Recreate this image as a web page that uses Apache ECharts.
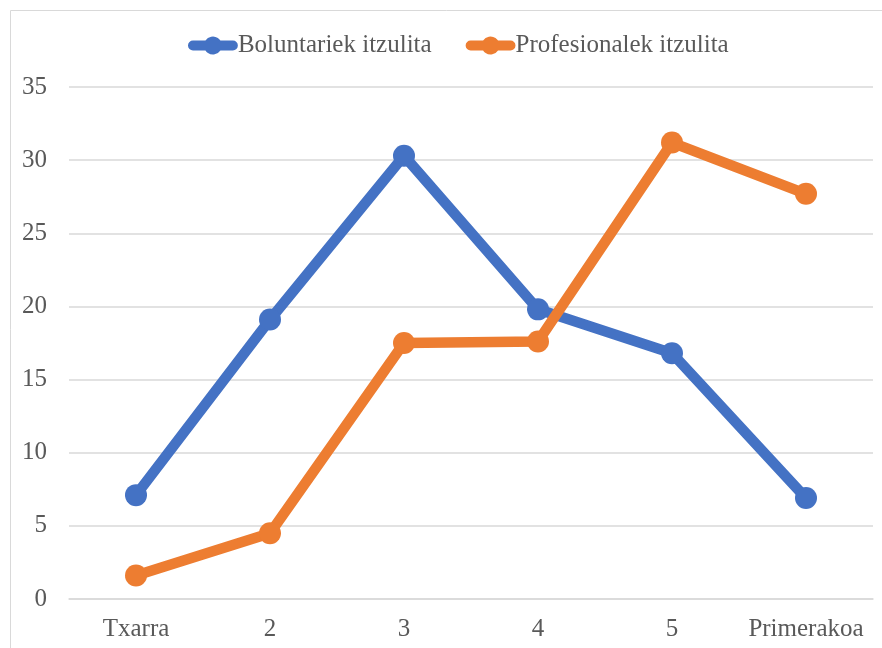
<!DOCTYPE html>
<html><head><meta charset="utf-8">
<script src="https://cdn.jsdelivr.net/npm/echarts@6/dist/echarts.min.js"></script>
<style>html,body{margin:0;padding:0;background:#fff}#c{width:882px;height:648px}</style>
</head><body><div id="c"></div>
<script>
const categories = ['Txarra', '2', '3', '4', '5', 'Primerakoa'];
const boluntariak = [7.1, 19.1, 30.3, 19.8, 16.8, 6.9];
const profesionalak = [1.6, 4.5, 17.5, 17.6, 31.2, 27.7];
const seriesNames = ['Boluntariek itzulita', 'Profesionalek itzulita'];
const chart = echarts.init(document.getElementById('c'));
const font = '"Liberation Serif","Times New Roman",serif';
chart.setOption({
  animation: false,
  textStyle: {fontFamily: font},
  graphic: [{type: 'rect', shape: {x: 10.5, y: 10.5, width: 900, height: 700}, style: {fill: 'none', stroke: '#d9d9d9', lineWidth: 1}}],
  legend: {
    top: 28, left: 183, itemWidth: 50, itemHeight: 18, itemGap: 34,
    icon: 'path://M5,4 L17.5,4 A9,9 0 0 1 32.5,4 L45,4 A5,5 0 0 1 45,14 L32.5,14 A9,9 0 0 1 17.5,14 L5,14 A5,5 0 0 1 5,4 Z',
    textStyle: {fontFamily: font, fontSize: 25, color: '#595959', padding: [0, 0, 0, -5]},
    data: seriesNames
  },
  grid: {left: 69, right: 9, top: 87, bottom: 49},
  xAxis: {
    type: 'category', data: categories, boundaryGap: true,
    axisLine: {lineStyle: {color: '#d9d9d9', width: 1.5}},
    axisTick: {show: false},
    axisLabel: {fontFamily: font, fontSize: 25, color: '#595959', margin: 18, interval: 0}
  },
  yAxis: {
    type: 'value', min: 0, max: 35, interval: 5,
    axisLine: {show: false}, axisTick: {show: false},
    splitLine: {lineStyle: {color: '#d9d9d9', width: 1.5}},
    axisLabel: {fontFamily: font, fontSize: 25, color: '#595959', margin: 22}
  },
  series: [
    {name: seriesNames[0], type: 'line', data: boluntariak, symbol: 'circle', symbolSize: 22,
     lineStyle: {width: 10.5, color: '#4472C4', cap: 'round', join: 'round'}, itemStyle: {color: '#4472C4'}},
    {name: seriesNames[1], type: 'line', data: profesionalak, symbol: 'circle', symbolSize: 22,
     lineStyle: {width: 10.5, color: '#ED7D31', cap: 'round', join: 'round'}, itemStyle: {color: '#ED7D31'}}
  ]
});
</script></body></html>
